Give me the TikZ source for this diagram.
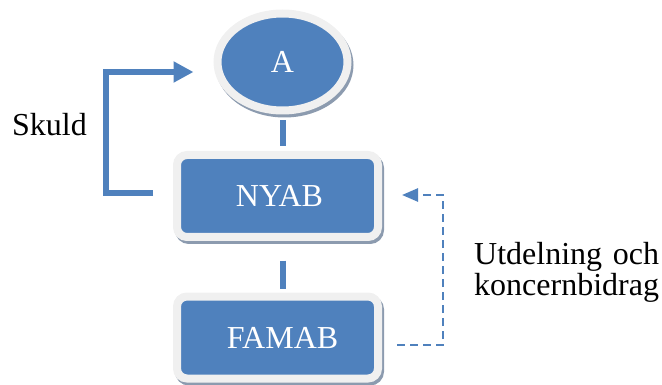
\documentclass[tikz,border=0pt]{standalone}
\usepackage{fontspec}
\setmainfont{Liberation Serif}
\usepackage{calc}
\usetikzlibrary{shapes.geometric,shadows,arrows.meta,calc}
\definecolor{blu}{HTML}{4F81BD}
\definecolor{rim}{HTML}{F0F0F0}
\definecolor{shad}{RGB}{140,155,175}
\tikzset{
  big/.style={font=\fontsize{32}{31}\selectfont},
  shape3d/.style={fill=blu, draw=rim, line width=8pt, text=white, big, inner sep=0pt,
    general shadow={shadow xshift=2pt, shadow yshift=-3pt, fill=shad, draw=shad, line width=8pt}},
  ellnode/.style={shape3d, ellipse, minimum width=130pt, minimum height=97pt},
  boxnode/.style={shape3d, rectangle, rounded corners=10pt, minimum width=201pt, minimum height=82pt},
  link/.style={draw=blu, line width=6pt},
  thickarrow/.style={draw=blu, line width=6pt, -{Triangle[length=20pt,width=20pt]}},
  dasharrow/.style={draw=blu, line width=2.5pt, dash pattern=on 8pt off 5pt, -{Triangle[length=16pt,width=13pt]}},
  lbl/.style={big, text=black, inner sep=0pt}
}
\begin{document}
\begin{tikzpicture}[x=1pt,y=-1pt]
\useasboundingbox (0,0) rectangle (662,385);
\node[ellnode] (A) at (282.5,62) {A};
\node[boxnode] (N) at (277.5,196) {\hspace*{4pt}NYAB};
\node[boxnode] (F) at (277.5,337.5) {\hspace*{10pt}FAMAB};
% vertical connectors
\draw[link] ([yshift=-6pt]A.south) -- ([yshift=5pt]A.south |- N.north);
\draw[link] ([yshift=-19.5pt]A.south |- N.south) -- ([yshift=4pt]A.south |- F.north);
% Skuld arrow
\coordinate (s1) at ([xshift=-20pt,yshift=3pt]N.west);
\coordinate (s2) at ([xshift=-20pt,yshift=-10pt]A.west);
\draw[thickarrow] (s1) -| ($(s1)+(-47,0)$) |- (s2);
\node[lbl, anchor=base west] (sk) at (12,136) {Skuld};
% dashed arrow
\coordinate (d1) at ([xshift=15pt,yshift=-7.5pt]F.east);
\coordinate (d2) at ([xshift=20pt,yshift=1pt]N.east);
\draw[dasharrow] (d1) -| ($(d1)+(46,0)$) |- (d2);
\node[lbl, anchor=base west] (ut) at (474,280) {\begin{tabular}{@{}l@{}}\makebox[\widthof{koncernbidrag}][s]{Utdelning och}\\koncernbidrag\end{tabular}};
\end{tikzpicture}
\end{document}
